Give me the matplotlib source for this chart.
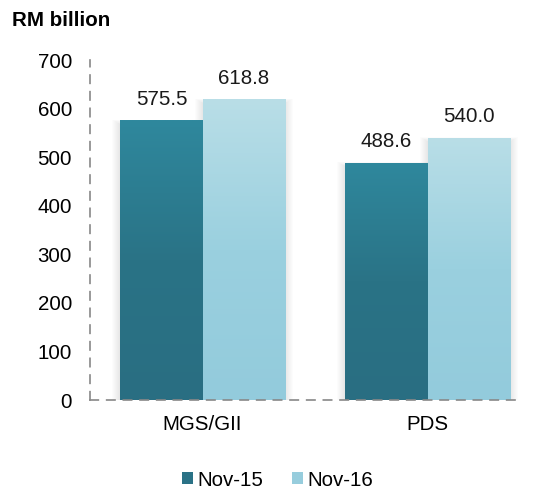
import matplotlib
matplotlib.use("Agg")
import matplotlib.pyplot as plt
import numpy as np
from matplotlib.patches import Patch
from matplotlib.colors import LinearSegmentedColormap

plt.rcParams['font.family'] = ['Liberation Sans', 'DejaVu Sans']

categories = ["MGS/GII", "PDS"]
series_names = ["Nov-15", "Nov-16"]
nov15 = [575.5, 488.6]
nov16 = [618.8, 540.0]
yticks = [0, 100, 200, 300, 400, 500, 600, 700]

FS = 14.8
W, H = 538, 490
fig = plt.figure(figsize=(W/100, H/100), dpi=100)
ax = fig.add_axes([90/W, 1 - 400/H, 450/W, 340/H])
ax.set_xlim(-0.5, 1.5)
ax.set_ylim(0, 700)

px_x = 2.0 / 450.0     # data units per pixel, x
px_y = 700.0 / 340.0   # data units per pixel, y

bw = 0.365
grad_dark = LinearSegmentedColormap.from_list("d", ["#296e82", "#2a7386", "#2f889d"])
grad_light = LinearSegmentedColormap.from_list("l", ["#93cbdc", "#9ad0df", "#b9dee7"])
x = np.arange(len(categories))
for vals, off, cmap, col in [(nov15, -bw/2, grad_dark, "#2a7286"), (nov16, bw/2, grad_light, "#97cddd")]:
    bars = ax.bar(x + off, vals, width=bw, color=col, zorder=2)
    for b, v in zip(bars, vals):
        x0 = b.get_x(); w = b.get_width()
        # soft blurred shadow
        for k in range(1, 9):
            e = k * 1.0
            sh = plt.Rectangle((x0 - e * px_x, 0), w + 2 * e * px_x, v - 4 * px_y + e * 0.6 * px_y,
                               facecolor="#000000", alpha=0.012, zorder=1, edgecolor='none')
            ax.add_patch(sh)
        g = np.linspace(0, 1, 256).reshape(-1, 1)
        im = ax.imshow(g, extent=(x0, x0 + w, 0, v), origin='lower', cmap=cmap, aspect='auto', zorder=3)
        im.set_clip_path(b)
        ax.text(x0 + w/2, v + 24, f"{v:.1f}", ha='center', va='bottom', fontsize=FS, color='#1a1a1a', zorder=4)

ax.set_xlim(-0.5, 1.5)
ax.set_ylim(0, 700)
ax.set_xticks(x)
ax.set_xticklabels(categories, fontsize=FS)
ax.set_yticks(yticks)
ax.set_yticklabels([str(t) for t in yticks], fontsize=FS)
ax.tick_params(length=0)
ax.tick_params(axis='y', pad=13)
ax.tick_params(axis='x', pad=11)
for s in ['top', 'right']:
    ax.spines[s].set_visible(False)
for s in ['left', 'bottom']:
    ax.spines[s].set_linestyle((0, (5, 5)))
    ax.spines[s].set_color('#888888')
    ax.spines[s].set_linewidth(1.2)
ax.spines['bottom'].set_bounds(-0.5, 1.42)
ax.spines['bottom'].set_zorder(5)

fig.text(12/W, 1 - 20/H, "RM billion", fontsize=FS, fontweight='bold', va='center', ha='left')

handles = [Patch(facecolor="#2a7286"), Patch(facecolor="#97cddd")]
fig.legend(handles, series_names, loc='center', bbox_to_anchor=(278/W, 1 - 480/H), ncol=2,
           frameon=False, fontsize=FS, handlelength=0.5, handleheight=0.5, handletextpad=0.25,
           columnspacing=1.4)

fig.savefig("out.png", dpi=100)
